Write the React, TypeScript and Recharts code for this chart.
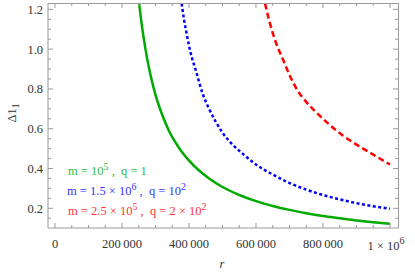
import { LineChart, Line, XAxis, YAxis } from "recharts";

// curve samples (r, Δl1)
const greenR = [251000, 260000, 270000, 280000, 290000, 300000, 320000, 340000, 360000, 380000, 400000, 430000, 460000, 500000, 550000, 600000, 650000, 700000, 750000, 800000, 850000, 900000, 950000, 1000000];
const greenV = [1.23, 1.11, 1.0, 0.91, 0.835, 0.77, 0.67, 0.59, 0.53, 0.48, 0.44, 0.39, 0.35, 0.307, 0.267, 0.236, 0.212, 0.192, 0.175, 0.161, 0.15, 0.139, 0.13, 0.122];

const blueR = [378000, 385000, 395000, 405000, 420000, 440000, 460000, 480000, 500000, 530000, 560000, 600000, 650000, 700000, 750000, 800000, 850000, 900000, 950000, 1000000];
const blueV = [1.23, 1.15, 1.06, 0.98, 0.895, 0.78, 0.7, 0.635, 0.58, 0.52, 0.475, 0.42, 0.37, 0.327, 0.294, 0.267, 0.245, 0.226, 0.21, 0.198];

const redR = [627000, 640000, 660000, 680000, 700000, 725000, 750000, 775000, 800000, 830000, 860000, 900000, 950000, 1000000];
const redV = [1.23, 1.14, 1.03, 0.95, 0.87, 0.79, 0.735, 0.69, 0.65, 0.605, 0.565, 0.52, 0.47, 0.42];

const xTicks = [0, 50000, 100000, 150000, 200000, 250000, 300000, 350000, 400000, 450000, 500000, 550000, 600000, 650000, 700000, 750000, 800000, 850000, 900000, 950000, 1000000];
const xLabels: Record<number, string> = { 0: "0", 200000: "200\u2009000", 400000: "400\u2009000", 600000: "600\u2009000", 800000: "800\u2009000" };
const yTicks = [0.15, 0.2, 0.25, 0.3, 0.35, 0.4, 0.45, 0.5, 0.55, 0.6, 0.65, 0.7, 0.75, 0.8, 0.85, 0.9, 0.95, 1.0, 1.05, 1.1, 1.15, 1.2];
const yLabels: Record<string, string> = { "0.2": "0.2", "0.4": "0.4", "0.6": "0.6", "0.8": "0.8", "1": "1.0", "1.2": "1.2" };

const toRows = (rs: number[], vs: number[]) => rs.map((r, i) => ({ r, v: vs[i] }));
const green = toRows(greenR, greenV);
const blue = toRows(blueR, blueV);
const red = toRows(redR, redV);

const W = 415, H = 277;
const LEFT = 48, RIGHT = 398, TOP = 3, BOTTOM = 228;
const FRAME = "#9a9a9a";
const SERIF = "Liberation Serif";
const NB = "\u00a0";

function XTick(props: any) {
  const { x, payload } = props;
  const v = payload.value;
  const major = v % 200000 === 0;
  const len = major ? 5 : 3;
  return (
    <g>
      <line x1={x} x2={x} y1={BOTTOM} y2={BOTTOM - len} stroke={FRAME} />
      <line x1={x} x2={x} y1={TOP} y2={TOP + len} stroke={FRAME} />
      {major && v !== 1000000 && (
        <text x={x} y={248} textAnchor="middle" fontSize={12.5} fontFamily={SERIF} fill="#333">{xLabels[v]}</text>
      )}
      {v === 1000000 && (
        <text x={x - 4} y={250} textAnchor="middle" fontSize={12.5} fontFamily={SERIF} fill="#333">
          {`1${NB}×${NB}10`}<tspan dy={-6} fontSize={10}>6</tspan>
        </text>
      )}
    </g>
  );
}

function YTick(props: any) {
  const { y, payload } = props;
  const key = String(Math.round(payload.value * 100) / 100);
  const label = yLabels[key];
  const len = label ? 5 : 3;
  return (
    <g>
      <line x1={LEFT} x2={LEFT + len} y1={y} y2={y} stroke={FRAME} />
      <line x1={RIGHT} x2={RIGHT - len} y1={y} y2={y} stroke={FRAME} />
      {label && (
        <text x={43} y={y + 4.5} textAnchor="end" fontSize={12.5} fontFamily={SERIF} fill="#333">{label}</text>
      )}
    </g>
  );
}

export default function App() {
  return (
    <div style={{ position: "absolute", left: 0, top: 0, width: W, height: H, background: "#fff" }}>
      <LineChart width={W} height={H} margin={{ top: TOP, right: W - RIGHT, bottom: 0, left: 0 }}>
        <XAxis type="number" dataKey="r" domain={[-20900, 1023900]} ticks={xTicks} interval={0}
          allowDataOverflow height={H - BOTTOM} axisLine={{ stroke: FRAME }} tickLine={false} tick={<XTick />} />
        <YAxis type="number" dataKey="v" domain={[0.101, 1.232]} ticks={yTicks} interval={0}
          allowDataOverflow width={LEFT} axisLine={{ stroke: FRAME }} tickLine={false} tick={<YTick />} />
        <Line data={green} dataKey="v" type="monotone" stroke="#00aa00" strokeWidth={2.5} dot={false} isAnimationActive={false} />
        <Line data={blue} dataKey="v" type="monotone" stroke="#0000ff" strokeWidth={2.5} strokeDasharray="3 2.5" dot={false} isAnimationActive={false} />
        <Line data={red} dataKey="v" type="monotone" stroke="#ff0000" strokeWidth={2.5} strokeDasharray="6 3.5" dot={false} isAnimationActive={false} />
      </LineChart>
      <svg width={W} height={H} style={{ position: "absolute", left: 0, top: 0, pointerEvents: "none" }}>
        {/* frame top and right */}
        <line x1={LEFT} x2={RIGHT} y1={TOP + 0.5} y2={TOP + 0.5} stroke={FRAME} />
        <line x1={RIGHT + 0.5} x2={RIGHT + 0.5} y1={TOP} y2={BOTTOM} stroke={FRAME} />
        {/* legend */}
        <text x={68} y={175} fontSize={12.5} fontFamily={SERIF} fill="#33bb33">
          {`m${NB}=${NB}10`}<tspan dy={-5} fontSize={10}>5</tspan><tspan dy={5}>{`${NB},${NB}${NB}q${NB}=${NB}1`}</tspan>
        </text>
        <text x={67} y={195} fontSize={12.5} fontFamily={SERIF} fill="#3333ff">
          {`m${NB}=${NB}1.5${NB}×${NB}10`}<tspan dy={-5} fontSize={10}>6</tspan><tspan dy={5}>{`${NB},${NB}${NB}q${NB}=${NB}10`}</tspan><tspan dy={-5} fontSize={10}>2</tspan>
        </text>
        <text x={68} y={215} fontSize={12.5} fontFamily={SERIF} fill="#ff3333">
          {`m${NB}=${NB}2.5${NB}×${NB}10`}<tspan dy={-5} fontSize={10}>5</tspan><tspan dy={5}>{`${NB},${NB}${NB}q${NB}=${NB}2${NB}×${NB}10`}</tspan><tspan dy={-5} fontSize={10}>2</tspan>
        </text>
        {/* axis titles */}
        <text x={222} y={268} fontSize={12.5} fontFamily={SERIF} fontStyle="italic" fill="#333" textAnchor="middle">r</text>
        <text transform="translate(16,113) rotate(-90)" fontSize={12.5} fontFamily={SERIF} fill="#333" textAnchor="middle">
          Δ1<tspan dy={3} fontSize={9.5}>1</tspan>
        </text>
      </svg>
    </div>
  );
}
